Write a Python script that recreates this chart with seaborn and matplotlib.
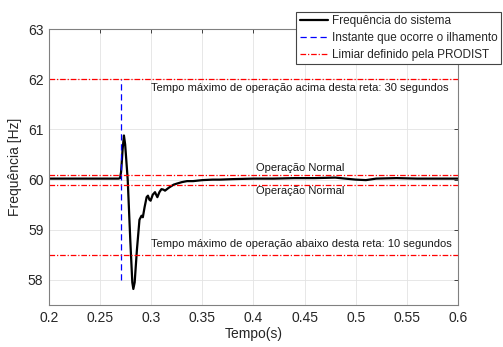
import matplotlib
matplotlib.use("Agg")
import matplotlib.pyplot as plt
import seaborn as sns
import pandas as pd

# frequency response
tempo = [0.2, 0.25, 0.268, 0.2695, 0.2705, 0.2712, 0.272, 0.2733, 0.2745, 0.277, 0.2795,
         0.2815, 0.2825, 0.2838, 0.286, 0.2885, 0.2905, 0.2918, 0.2935, 0.2955, 0.2968,
         0.2982, 0.2994, 0.3015, 0.3037, 0.3048, 0.306, 0.308, 0.310, 0.312, 0.3135,
         0.316, 0.318, 0.322, 0.325, 0.33, 0.335, 0.341, 0.35, 0.36, 0.367,
         0.38, 0.40, 0.42, 0.44, 0.46, 0.48, 0.50, 0.51, 0.52, 0.54,
         0.56, 0.58, 0.6]
freq = [60.02, 60.02, 60.02, 60.03, 60.15, 60.35, 60.6, 60.88, 60.7, 60.0, 58.8,
        57.95, 57.82, 57.95, 58.6, 59.2, 59.28, 59.25, 59.45, 59.65, 59.68,
        59.6, 59.58, 59.7, 59.75, 59.7, 59.65, 59.75, 59.81, 59.8, 59.78,
        59.82, 59.85, 59.9, 59.92, 59.95, 59.97, 59.97, 59.99, 60.0, 60.0,
        60.01, 60.02, 60.02, 60.03, 60.03, 60.04, 60.0, 59.99, 60.02, 60.03,
        60.02, 60.02, 60.02]

limiares = [62.0, 60.1, 59.9, 58.5]
t_ilhamento = 0.27
ilhamento_faixa = [58.0, 62.0]

df = pd.DataFrame({'Tempo': tempo, 'Freq': freq})

sns.set_style("whitegrid")
plt.rcParams['font.family'] = ['Liberation Sans', 'DejaVu Sans']

fig = plt.figure(figsize=(5.03, 3.47), dpi=100)
ax = fig.add_axes([0.0974, 0.121, 0.813, 0.795])

sns.lineplot(data=df, x='Tempo', y='Freq', color='black', linewidth=1.6,
             estimator=None, ax=ax, label='Frequência do sistema')
ax.vlines(t_ilhamento, ilhamento_faixa[0], ilhamento_faixa[1], colors='#0000ff',
          linestyles=(0, (5, 3)), linewidth=0.9, label='Instante que ocorre o ilhamento')
for i, y in enumerate(limiares):
    ax.axhline(y, color='#ff0000', linestyle=(0, (4.5, 1.5, 1, 1.5)), linewidth=0.9,
               label='Limiar definido pela PRODIST' if i == 0 else None)

txt = dict(fontsize=8.0, va='center', color='#1a1a1a')
ax.text(0.3, 61.83, 'Tempo máximo de operação acima desta reta: 30 segundos', ha='left', **txt)
ax.text(0.4455, 60.23, 'Operação Normal', ha='center', **txt)
ax.text(0.4455, 59.77, 'Operação Normal', ha='center', **txt)
ax.text(0.3, 58.72, 'Tempo máximo de operação abaixo desta reta: 10 segundos', ha='left', **txt)

ax.set_xlim(0.2, 0.6)
ax.set_ylim(57.5, 63)
ax.set_xticks([0.2, 0.25, 0.3, 0.35, 0.4, 0.45, 0.5, 0.55, 0.6])
ax.set_xticklabels(['0.2', '0.25', '0.3', '0.35', '0.4', '0.45', '0.5', '0.55', '0.6'])
ax.set_yticks([58, 59, 60, 61, 62, 63])
ax.set_xlabel('Tempo(s)', fontsize=10, color='#262626', labelpad=2)
ax.set_ylabel('Frequência [Hz]', fontsize=10, color='#262626', labelpad=4)
ax.tick_params(axis='both', labelsize=10, colors='#262626', direction='in',
               length=3, width=0.6, top=True, right=True, pad=4)
ax.grid(True, color='#e3e3e3', linewidth=0.6)
for sp in ax.spines.values():
    sp.set_color('#808080')
    sp.set_linewidth(0.8)

leg = ax.legend(loc='upper left', bbox_to_anchor=(0.589, 0.966), bbox_transform=fig.transFigure,
                fontsize=8.5, frameon=True, fancybox=False, framealpha=1,
                handlelength=2.4, handletextpad=0.3, borderpad=0.3, labelspacing=0.4,
                borderaxespad=0)
leg.get_frame().set_edgecolor('#444444')
leg.get_frame().set_linewidth(0.8)

fig.savefig('out.png', dpi=100)
